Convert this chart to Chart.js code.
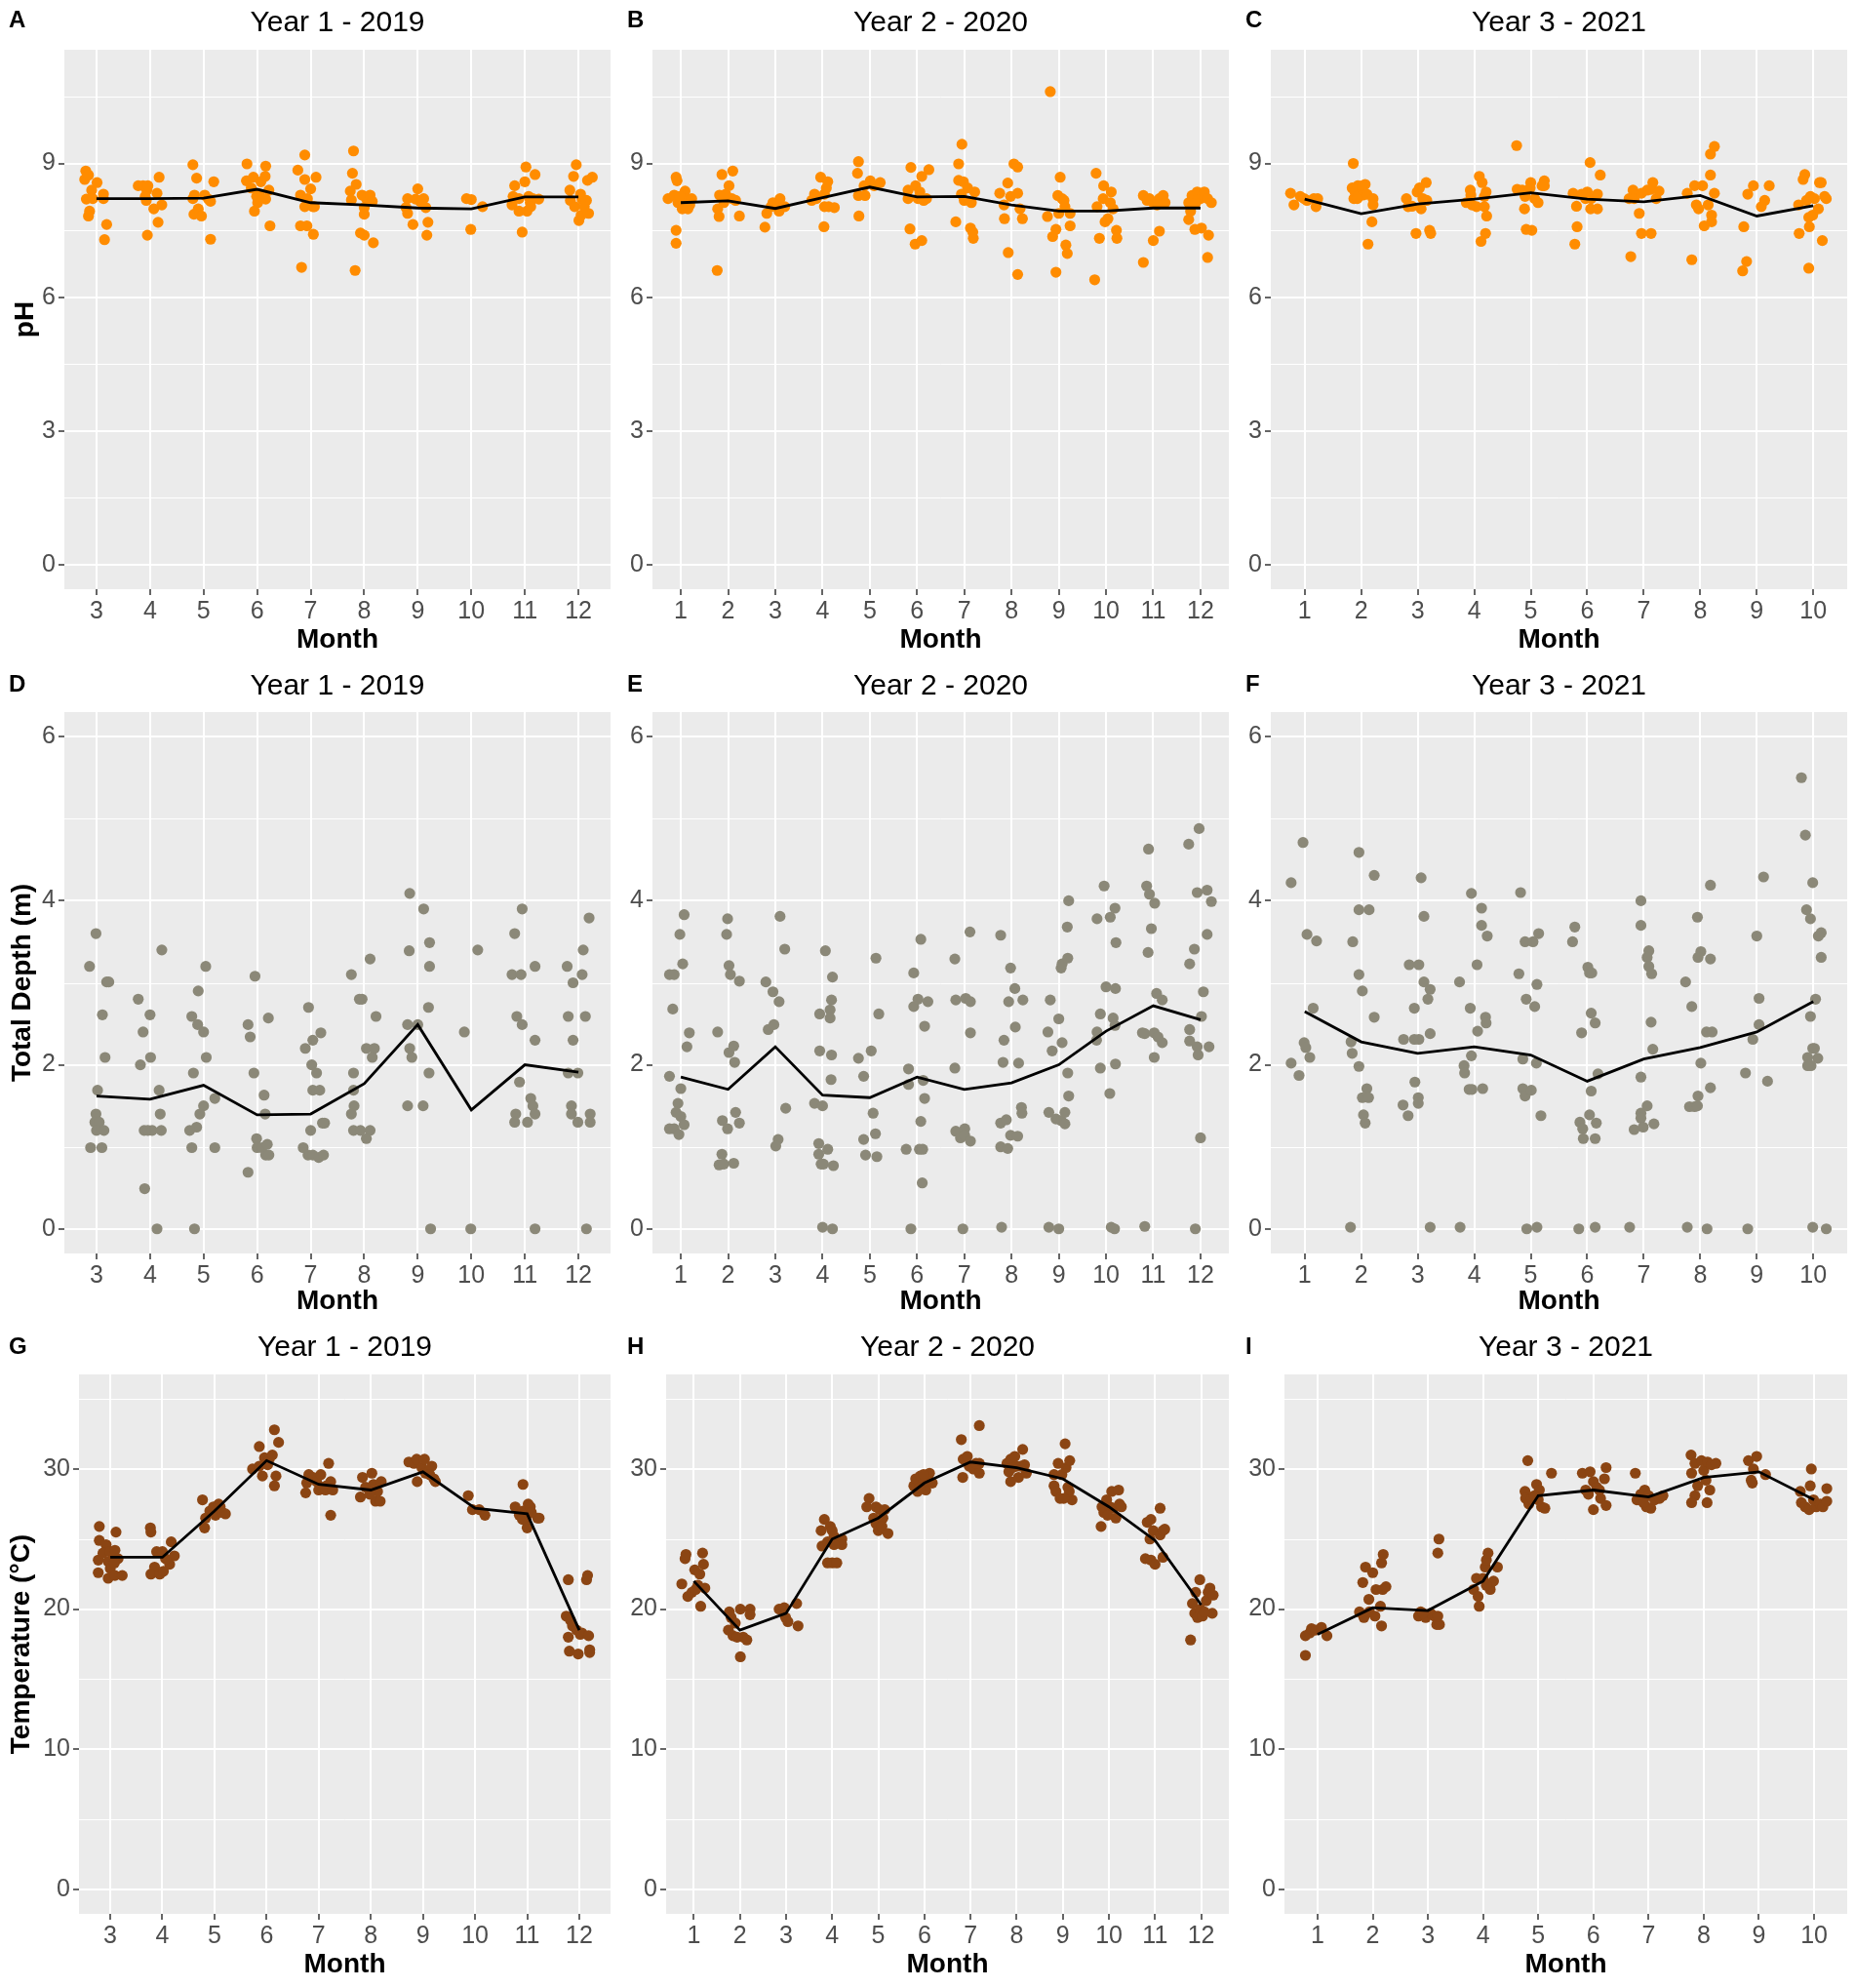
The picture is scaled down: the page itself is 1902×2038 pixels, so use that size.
<!DOCTYPE html>
<html>
<head>
<meta charset="utf-8">
<script src="https://cdn.jsdelivr.net/npm/chart.js@4.4.0/dist/chart.umd.min.js"></script>
<style>
  body { margin: 0; background: #fff; }
  #wrap { position: relative; width: 1902px; height: 2038px; }
  #wrap canvas { position: absolute; }
</style>
</head>
<body>
<div id="wrap"></div>
<script>
const FONT = "'Liberation Sans', Arial, sans-serif";

// months on the x axis of each year
const monthsY1 = [3, 4, 5, 6, 7, 8, 9, 10, 11, 12];
const monthsY2 = [1, 2, 3, 4, 5, 6, 7, 8, 9, 10, 11, 12];
const monthsY3 = [1, 2, 3, 4, 5, 6, 7, 8, 9, 10];

// monthly means (black line)
const phMeanY1 = [8.21, 8.21, 8.22, 8.42, 8.12, 8.07, 8.0, 7.98, 8.25, 8.25];
const phMeanY2 = [8.12, 8.16, 7.99, 8.23, 8.47, 8.25, 8.26, 8.07, 7.93, 7.93, 8.0, 8.0];
const phMeanY3 = [8.2, 7.87, 8.09, 8.2, 8.34, 8.2, 8.14, 8.28, 7.82, 8.05];
const depthMeanY1 = [1.62, 1.58, 1.75, 1.39, 1.40, 1.77, 2.49, 1.45, 2.0, 1.91];
const depthMeanY2 = [1.85, 1.70, 2.22, 1.63, 1.60, 1.85, 1.70, 1.78, 2.0, 2.41, 2.72, 2.55];
const depthMeanY3 = [2.65, 2.28, 2.14, 2.22, 2.12, 1.80, 2.07, 2.21, 2.40, 2.77];
const tempMeanY1 = [23.7, 23.7, 27.0, 30.6, 28.9, 28.5, 29.8, 27.2, 26.8, 18.5];
const tempMeanY2 = [22.0, 18.5, 19.7, 25.0, 26.5, 29.0, 30.5, 30.1, 29.3, 27.3, 24.9, 20.3];
const tempMeanY3 = [18.2, 20.1, 19.9, 22.0, 28.1, 28.5, 28.0, 29.4, 29.8, 27.8];

// jittered samples [month + jitter, value]
const phPointsY1 = [
  [2.78,8.64],[2.8,8.83],[2.85,8.74],[2.91,8.4],[2.81,8.2],[2.93,8.21],[2.87,7.93],[2.85,7.82],[3.01,8.57],[3.13,8.31],[3.13,8.21],[3.19,7.63],[3.15,7.29],
  [3.78,8.5],[3.87,8.5],[3.94,8.4],[3.91,8.26],[3.93,8.17],[3.96,8.5],[3.95,7.39],[4.07,7.98],[4.13,8.33],[4.17,8.69],[4.22,8.07],[4.15,7.68],
  [4.8,8.97],[4.87,8.67],[4.8,8.21],[4.83,8.29],[4.82,7.86],[4.9,7.98],[4.96,7.82],[5.02,8.29],[5.09,8.2],[5.13,8.15],[5.19,8.59],[5.13,7.3],
  [5.81,8.99],[5.8,8.61],[5.93,8.69],[5.89,8.45],[6.04,8.31],[6.07,8.59],[6.16,8.94],[6.15,8.71],[6.22,8.4],[6.16,8.2],[6.01,8.12],[5.95,7.93],[6.24,7.6],[5.99,8.26],
  [6.76,8.85],[6.89,9.19],[6.89,8.64],[6.81,8.29],[6.94,8.21],[6.89,8.03],[6.81,7.6],[6.93,7.6],[6.83,6.67],[7.0,8.43],[7.1,8.69],[7.04,8.03],[7.07,8.03],[7.05,7.41],
  [7.8,9.28],[7.78,8.78],[7.85,8.53],[7.74,8.38],[7.76,8.18],[7.96,8.29],[8.04,8.21],[8.11,8.29],[8.15,8.15],[8.0,8.01],[8.0,7.86],[7.93,7.44],[8.0,7.39],[8.17,7.22],[7.83,6.6],
  [8.81,8.21],[8.78,8.01],[8.81,7.88],[8.91,7.63],[9.0,8.43],[8.96,8.2],[9.11,8.21],[9.05,8.14],[9.15,8.01],[9.19,7.68],[9.17,7.39],
  [9.91,8.21],[10.0,8.19],[9.99,7.52],[10.21,8.03],
  [10.81,8.5],[10.78,8.26],[10.76,8.07],[10.89,7.93],[10.95,7.46],[11.02,8.92],[11.0,8.59],[11.19,8.75],[11.07,8.26],[11.15,8.21],[11.1,8.12],[11.04,7.93],[11.26,8.2],[10.89,8.21],[11.11,8.03],
  [11.96,8.97],[11.91,8.71],[11.84,8.4],[11.85,8.17],[11.93,8.03],[12.04,8.31],[12.07,8.19],[12.15,8.17],[12.01,7.72],[12.05,7.84],[12.19,7.88],[12.17,8.62],[12.26,8.69],[12.11,8.03]
];
const phPointsY2 = [
  [0.73,8.21],[0.86,8.29],[0.9,8.69],[0.92,8.61],[0.94,8.12],[1.03,7.98],[0.9,7.5],[0.9,7.21],[1.09,8.38],[1.13,8.21],[1.19,8.07],[1.23,8.21],[1.15,7.98],[0.98,8.26],
  [1.87,8.75],[2.1,8.83],[2.02,8.5],[1.82,8.29],[1.78,7.98],[1.81,7.81],[1.91,8.12],[2.08,8.21],[2.16,8.17],[2.24,7.82],[1.77,6.6],[1.95,8.31],
  [2.78,7.57],[2.82,7.88],[2.91,8.03],[3.01,8.07],[3.08,7.93],[3.1,8.21],[3.2,8.03],[2.95,8.12],
  [3.77,8.17],[3.83,8.31],[3.96,8.69],[3.87,8.21],[4.04,8.31],[4.11,8.59],[4.08,8.45],[4.04,8.03],[4.13,8.03],[4.25,8.01],[4.03,7.58],
  [4.76,9.04],[4.74,8.78],[4.77,7.82],[4.76,8.28],[4.9,8.28],[4.88,8.5],[5.01,8.61],[5.09,8.5],[5.22,8.57],
  [5.87,8.91],[5.81,8.4],[5.81,8.21],[5.85,7.53],[5.96,7.19],[6.1,7.27],[5.97,8.5],[6.06,8.36],[6.1,8.71],[6.14,8.17],[6.2,8.21],[6.25,8.86],[6.02,8.21],
  [6.95,9.43],[6.88,8.99],[6.88,8.62],[6.82,7.69],[6.98,8.59],[6.94,8.31],[7.0,8.17],[7.07,8.45],[7.15,8.12],[7.22,8.36],[7.13,7.55],[7.19,7.32],[7.18,7.46],
  [7.75,8.33],[7.84,8.07],[7.85,7.76],[7.92,8.56],[8.05,8.99],[8.13,8.92],[7.98,8.26],[8.13,8.33],[8.18,7.98],[8.23,7.76],[7.93,7.0],[8.13,6.51],
  [8.82,10.61],[8.76,7.81],[8.87,7.36],[8.94,7.52],[8.94,6.56],[9.03,8.69],[8.98,8.28],[9.07,8.21],[9.11,8.17],[9.0,7.88],[9.15,7.17],[9.18,6.98],[9.24,7.6],[9.24,7.88],[9.13,8.03],
  [9.79,8.78],[9.81,8.03],[9.76,6.39],[9.86,7.32],[9.95,8.5],[9.94,8.21],[9.98,7.69],[10.04,7.76],[10.11,8.36],[10.09,8.12],[10.15,7.98],[10.22,7.5],[10.23,7.32],
  [10.79,6.78],[10.79,8.28],[10.87,8.17],[11.0,8.12],[11.0,7.27],[11.13,7.48],[11.13,8.21],[11.21,8.28],[11.25,8.12],[11.08,8.07],[10.92,8.21],
  [11.75,7.74],[11.79,7.93],[11.75,8.12],[11.82,8.28],[11.88,7.52],[11.93,8.36],[12.0,8.21],[12.08,8.36],[12.15,8.21],[12.23,8.12],[12.02,7.55],[12.15,6.89],[12.17,7.39],[11.9,8.12]
];
const phPointsY3 = [
  [0.75,8.33],[0.81,8.07],[0.92,8.26],[0.99,8.21],[1.04,8.17],[1.16,8.21],[1.2,8.03],[1.23,8.21],
  [1.86,9.0],[1.84,8.45],[1.87,8.21],[1.89,8.36],[1.94,8.5],[1.96,8.29],[2.02,8.5],[2.07,8.53],[2.03,8.29],[2.1,8.31],[2.21,8.21],[2.21,8.07],[2.19,7.69],[2.12,7.19],[1.93,8.21],
  [2.8,8.21],[2.83,8.03],[2.9,8.04],[2.99,8.36],[3.03,8.45],[3.09,8.21],[3.15,8.57],[3.16,8.17],[3.06,7.98],[2.97,7.43],[3.21,7.5],[3.23,7.43],
  [3.86,8.12],[3.93,8.4],[3.94,8.29],[3.96,8.07],[4.04,8.03],[4.09,8.71],[4.14,8.57],[4.18,8.26],[4.21,8.36],[4.18,8.03],[4.22,7.82],[4.2,7.43],[4.12,7.25],
  [4.75,9.4],[4.76,8.42],[4.85,8.4],[4.9,8.26],[4.99,8.45],[5.0,8.57],[4.89,7.98],[4.92,7.52],[5.02,7.5],[5.07,8.21],[5.13,8.12],[5.2,8.5],[5.24,8.61],[5.24,8.5],
  [5.75,8.33],[5.81,8.04],[5.82,7.58],[5.78,7.19],[5.9,8.31],[6.0,8.36],[6.05,9.02],[6.07,8.21],[6.06,7.98],[6.18,8.31],[6.18,7.98],[6.23,8.74],[5.97,8.21],
  [6.74,8.21],[6.81,8.4],[6.83,8.21],[6.92,7.88],[6.96,8.33],[6.77,6.91],[6.96,7.43],[7.06,8.4],[7.13,8.42],[7.16,8.57],[7.22,8.21],[7.27,8.38],[7.13,7.43],
  [7.77,8.33],[7.9,8.5],[7.93,8.07],[7.97,7.98],[8.04,8.5],[8.07,7.6],[7.85,6.84],[8.14,8.07],[8.18,8.74],[8.18,9.21],[8.25,9.38],[8.25,8.33],[8.2,7.69],[8.2,7.84],
  [8.77,7.58],[8.75,6.59],[8.82,6.8],[8.84,8.31],[8.94,8.5],[9.08,8.03],[9.14,8.17],[9.22,8.5],
  [9.75,7.43],[9.74,8.07],[9.82,8.64],[9.85,8.75],[9.88,8.17],[9.95,8.26],[9.92,7.79],[9.93,7.58],[9.99,7.84],[9.92,6.65],[10.09,7.98],[10.11,8.57],[10.14,8.57],[10.16,7.27],[10.2,8.26],[10.23,8.21],[10.02,8.21]
];

const depthPointsY1 = [
  [2.87,3.2],[2.99,3.6],[2.89,0.99],[2.99,1.4],[2.97,1.3],[3.05,1.3],[3.0,1.2],[3.02,1.69],[3.11,2.61],[3.16,2.09],[3.19,3.01],[3.23,3.01],[3.1,0.99],[3.14,1.2],
  [3.78,2.8],[3.87,2.4],[3.82,2.0],[3.9,0.49],[3.89,1.2],[3.96,1.2],[4.04,1.2],[4.0,2.61],[4.01,2.09],[4.13,0.0],[4.17,1.69],[4.19,1.4],[4.21,1.2],[4.22,3.4],
  [4.78,2.59],[4.89,2.49],[4.9,2.9],[5.0,2.4],[5.04,3.2],[5.05,2.09],[4.81,1.9],[5.0,1.5],[4.93,1.4],[4.87,1.24],[4.74,1.2],[4.78,0.99],[4.83,0.0],[5.21,1.59],[5.21,0.99],
  [5.83,2.49],[5.87,2.34],[5.96,3.08],[5.94,1.9],[6.13,1.63],[6.15,1.4],[6.21,2.57],[5.99,1.1],[6.0,0.99],[6.09,0.99],[6.19,1.03],[6.16,0.9],[6.22,0.9],[5.83,0.69],
  [6.96,2.7],[6.9,2.2],[7.04,2.3],[7.19,2.39],[7.02,2.0],[7.11,1.9],[7.04,1.69],[7.17,1.69],[7.0,1.2],[7.22,1.29],[7.26,1.29],[6.86,0.99],[6.95,0.9],[7.04,0.9],[7.15,0.87],[7.24,0.9],
  [7.76,3.1],[7.91,2.8],[7.96,2.8],[8.11,3.29],[8.22,2.59],[8.04,2.2],[8.19,2.2],[8.15,2.09],[7.8,1.9],[7.8,1.69],[7.81,1.5],[7.76,1.4],[7.8,1.2],[7.93,1.2],[8.11,1.2],[8.04,1.1],
  [8.85,4.09],[8.84,3.39],[8.81,2.49],[9.0,2.49],[8.85,2.2],[8.89,2.09],[8.81,1.5],[9.1,1.5],[9.11,3.9],[9.22,3.49],[9.22,3.2],[9.2,2.7],[9.21,1.9],[9.24,0.0],
  [9.87,2.4],[10.12,3.4],[9.99,0.0],
  [10.81,3.6],[10.76,3.1],[10.93,3.1],[10.95,3.9],[10.85,2.59],[10.95,2.49],[10.9,1.79],[11.11,1.59],[11.15,1.5],[11.19,1.4],[10.83,1.4],[10.81,1.3],[11.05,1.3],[11.19,3.2],[11.19,2.3],[11.19,0.0],
  [11.79,3.2],[11.9,3.0],[11.81,2.59],[11.9,2.3],[11.81,1.9],[11.99,1.9],[11.87,1.5],[11.87,1.4],[11.99,1.3],[12.07,3.1],[12.09,3.4],[12.13,2.59],[12.2,3.79],[12.22,1.4],[12.22,1.3],[12.15,0.0]
];
const depthPointsY2 = [
  [0.76,3.1],[0.86,3.1],[0.83,2.68],[0.76,1.86],[1.0,1.71],[0.94,1.53],[0.9,1.42],[1.0,1.37],[0.76,1.22],[0.86,1.22],[0.96,1.15],[1.07,1.27],[0.98,3.59],[1.07,3.83],[1.04,3.23],[1.13,2.22],[1.18,2.39],
  [1.78,2.4],[1.99,3.78],[1.97,3.59],[2.02,3.21],[2.05,3.1],[2.24,3.02],[2.02,2.15],[2.12,2.23],[2.14,2.03],[1.88,1.32],[1.99,1.22],[2.16,1.42],[2.24,1.29],[1.87,0.91],[1.81,0.78],[1.91,0.79],[2.12,0.8],
  [2.8,3.01],[2.95,2.89],[3.08,2.77],[2.85,2.43],[2.97,2.49],[3.1,3.81],[3.2,3.41],[3.22,1.47],[3.06,1.09],[3.01,1.01],
  [3.83,1.53],[4.0,1.5],[3.94,2.62],[3.94,2.17],[4.06,3.39],[4.21,3.07],[4.19,2.79],[4.16,2.67],[4.16,2.57],[4.19,2.12],[4.18,1.82],[3.92,1.04],[3.92,0.91],[3.97,0.79],[4.02,0.79],[4.11,0.97],[4.23,0.77],[4.0,0.02],[4.21,0.0],
  [4.76,2.08],[4.87,1.86],[5.03,2.17],[5.07,1.41],[4.87,1.09],[5.12,1.16],[4.91,0.9],[5.15,0.88],[5.13,3.3],[5.19,2.62],
  [5.82,1.95],[5.82,1.76],[5.77,0.97],[5.93,2.71],[5.93,3.12],[6.02,2.8],[6.08,3.53],[6.13,1.81],[6.16,1.59],[6.16,2.47],[6.23,2.77],[6.08,1.31],[6.05,0.97],[6.12,0.97],[6.11,0.56],[5.87,0.0],
  [6.8,3.29],[6.82,2.79],[7.03,2.81],[7.13,2.77],[7.13,2.39],[6.8,1.96],[7.12,3.62],[6.82,1.19],[6.92,1.11],[7.01,1.22],[7.01,1.14],[7.13,1.07],[6.97,0.0],
  [7.77,3.58],[7.98,3.18],[8.07,2.93],[7.94,2.77],[8.24,2.79],[8.08,2.46],[7.84,2.3],[7.82,2.03],[8.15,2.02],[8.21,1.48],[8.22,1.41],[7.77,1.29],[7.89,1.33],[7.98,1.14],[8.13,1.13],[7.77,1.0],[7.92,0.98],[7.79,0.02],
  [8.82,2.79],[8.77,2.4],[8.79,1.42],[8.86,2.17],[9.0,2.56],[9.07,2.27],[9.05,3.18],[9.07,3.23],[9.18,3.68],[9.19,3.3],[9.21,4.0],[9.19,1.9],[9.21,1.62],[8.94,1.34],[9.05,1.32],[9.13,1.28],[9.13,1.42],[8.79,0.02],[9.0,0.0],
  [9.81,3.78],[9.96,4.18],[10.09,3.8],[10.19,3.91],[10.21,3.49],[10.0,2.95],[10.2,2.93],[9.88,2.62],[9.81,2.4],[9.8,2.3],[9.88,1.96],[10.15,2.57],[10.19,2.48],[10.2,2.01],[10.08,1.65],[10.11,0.02],[10.18,0.0],
  [10.9,4.63],[10.86,4.18],[10.92,4.08],[11.03,3.97],[10.96,3.66],[10.89,3.37],[11.07,2.87],[11.19,2.79],[10.77,2.39],[10.82,2.38],[11.02,2.39],[11.1,2.34],[11.19,2.27],[11.02,2.09],[10.82,0.03],
  [11.75,4.69],[11.97,4.88],[11.93,4.1],[12.14,4.13],[12.23,3.99],[12.14,3.59],[11.87,3.41],[11.77,3.23],[12.06,2.89],[12.02,2.59],[11.77,2.43],[11.77,2.29],[11.93,2.22],[11.95,2.12],[12.18,2.22],[12.0,1.11],[11.89,0.0]
];
const depthPointsY3 = [
  [0.76,4.22],[0.97,4.71],[1.04,3.59],[1.21,3.51],[1.15,2.69],[0.99,2.27],[1.02,2.21],[1.09,2.09],[0.76,2.02],[0.9,1.87],
  [1.96,4.59],[1.85,3.5],[1.96,3.89],[2.14,3.89],[2.23,4.31],[1.96,3.1],[2.02,2.9],[2.23,2.58],[1.82,2.28],[1.84,2.14],[1.96,1.98],[2.1,1.71],[2.02,1.6],[2.13,1.6],[2.04,1.39],[2.07,1.29],[1.81,0.02],
  [2.85,3.22],[3.02,3.22],[3.06,4.28],[3.11,3.81],[3.11,3.01],[3.22,2.92],[3.18,2.8],[2.94,2.69],[2.75,2.31],[2.94,2.31],[3.02,2.31],[3.22,2.38],[2.95,1.79],[3.01,1.6],[3.01,1.53],[2.74,1.51],[2.83,1.38],[3.22,0.02],
  [3.95,4.09],[4.13,3.91],[4.13,3.7],[4.23,3.57],[4.05,3.22],[3.74,3.01],[3.93,2.69],[4.2,2.58],[4.21,2.51],[4.06,2.41],[3.95,2.11],[3.82,1.99],[3.83,1.9],[3.91,1.7],[3.96,1.7],[4.15,1.71],[3.75,0.02],
  [4.82,4.1],[4.9,3.5],[5.04,3.5],[5.14,3.6],[4.79,3.11],[5.11,2.98],[4.92,2.8],[5.07,2.71],[4.86,2.07],[5.1,2.02],[4.86,1.71],[4.9,1.62],[5.01,1.69],[5.18,1.38],[4.93,0.0],[5.11,0.02],
  [5.78,3.68],[5.74,3.5],[6.01,3.19],[6.04,3.12],[6.08,3.12],[6.07,2.63],[6.14,2.51],[5.9,2.39],[6.19,1.89],[6.07,1.68],[6.04,1.39],[5.87,1.3],[5.92,1.22],[5.93,1.1],[6.16,1.29],[6.14,1.1],[5.85,0.0],[6.14,0.02],
  [6.95,4.0],[6.95,3.7],[7.09,3.39],[7.06,3.31],[7.09,3.2],[7.14,3.11],[7.13,2.52],[7.16,2.19],[6.95,1.85],[7.06,1.5],[6.95,1.41],[6.95,1.35],[6.99,1.24],[6.83,1.21],[7.18,1.28],[6.75,0.02],
  [7.74,3.01],[7.85,2.71],[7.95,3.8],[8.01,3.38],[7.96,3.31],[8.18,3.29],[8.18,4.19],[8.11,2.4],[8.21,2.4],[8.01,2.02],[7.96,1.62],[7.81,1.49],[7.9,1.49],[7.95,1.5],[8.18,1.72],[7.77,0.02],[8.12,0.0],
  [9.12,4.29],[9.0,3.57],[9.04,2.81],[9.04,2.49],[8.93,2.31],[8.8,1.9],[9.19,1.8],[8.84,0.0],
  [9.79,5.5],[9.86,4.8],[9.99,4.22],[9.88,3.89],[9.95,3.78],[10.14,3.61],[10.09,3.57],[10.14,3.31],[10.04,2.8],[9.95,2.59],[9.99,2.2],[10.02,2.2],[9.9,2.09],[10.08,2.08],[9.9,1.99],[9.96,1.99],[9.99,0.02],[10.23,0.0]
];

const tempPointsY1 = [
  [2.79,25.9],[2.79,24.9],[2.92,24.6],[3.11,25.5],[2.77,23.5],[2.86,24.0],[3.0,24.1],[3.09,24.2],[2.96,23.4],[3.0,22.9],[2.77,22.6],[2.96,22.2],[3.09,22.4],[3.23,22.4],[3.15,23.6],[3.08,23.3],
  [3.77,25.8],[3.78,25.5],[3.89,24.1],[4.0,24.1],[4.17,24.8],[4.23,23.8],[4.14,23.2],[4.06,23.6],[3.85,23.0],[3.78,22.5],[3.95,22.5],[4.02,22.7],
  [4.77,27.8],[4.81,25.8],[4.83,26.5],[4.91,27.0],[4.98,27.3],[5.08,27.5],[5.02,26.7],[5.15,26.9],[5.21,26.8],[5.11,27.3],
  [5.73,30.0],[5.86,31.6],[5.92,29.5],[5.96,30.8],[6.05,30.7],[6.11,31.0],[6.15,32.8],[6.23,31.9],[6.18,29.5],[6.15,28.8],[6.02,30.3],[5.86,30.2],
  [6.75,28.3],[6.77,29.0],[6.81,29.6],[6.89,29.4],[6.96,29.1],[7.05,28.7],[7.0,28.5],[7.15,28.8],[7.19,30.4],[7.23,29.1],[7.23,26.7],[7.13,28.5],[7.27,28.5],[7.04,29.6],
  [7.8,28.0],[7.84,29.4],[7.9,28.7],[8.02,29.7],[8.05,28.9],[8.09,27.7],[8.18,27.7],[8.13,28.4],[8.2,29.1],[7.98,28.2],
  [8.73,30.5],[8.83,30.4],[8.88,30.7],[8.89,29.1],[8.98,30.1],[9.03,30.7],[9.05,29.7],[9.17,30.2],[9.21,29.3],[9.24,29.1],[9.13,29.6],
  [9.87,28.1],[9.95,27.1],[10.08,27.1],[10.19,26.7],
  [10.92,28.9],[10.77,27.3],[10.85,26.7],[10.92,27.0],[11.02,27.5],[11.06,27.3],[11.0,25.8],[10.98,26.4],[11.2,26.5],[11.23,26.5],[10.91,26.4],[11.08,26.9],
  [11.79,22.1],[12.16,22.4],[12.14,22.1],[11.75,19.5],[11.83,19.2],[11.87,18.8],[11.79,18.0],[11.95,18.5],[12.05,18.3],[12.02,18.2],[12.18,18.1],[11.81,17.0],[11.98,16.8],[12.2,17.1],[12.2,16.9]
];
const tempPointsY2 = [
  [0.74,21.8],[0.81,23.6],[0.83,23.9],[0.87,20.9],[0.96,21.2],[1.02,22.8],[1.13,22.5],[1.09,21.7],[1.19,24.0],[1.21,23.2],[1.15,20.2],[1.24,21.5],[1.04,21.4],
  [1.77,19.8],[1.81,19.4],[1.75,18.5],[1.85,18.1],[1.9,19.0],[2.01,20.0],[2.01,16.6],[2.07,18.0],[2.15,17.8],[2.22,20.0],[2.22,19.6],[1.94,18.0],
  [2.85,20.0],[2.96,20.1],[2.99,19.4],[3.04,19.1],[3.23,20.4],[3.26,18.8],
  [3.76,25.6],[3.83,26.4],[3.96,25.9],[3.78,24.5],[3.9,24.8],[4.0,25.6],[4.04,25.2],[3.9,23.3],[4.0,23.3],[4.1,23.3],[4.21,25.0],[4.21,24.6],[4.04,24.6],
  [4.8,27.9],[4.75,27.3],[4.95,27.3],[5.03,27.1],[4.9,26.5],[4.95,26.1],[5.0,25.6],[5.1,26.5],[5.08,25.9],[5.21,25.4],[5.14,27.1],
  [5.77,28.8],[5.81,29.3],[5.85,28.4],[5.91,29.5],[5.98,29.0],[6.03,28.5],[6.07,29.5],[6.11,29.7],[6.17,29.0],[5.9,28.7],[5.98,29.6],
  [6.8,32.1],[6.84,30.7],[6.83,29.4],[6.89,30.7],[6.93,30.9],[6.97,30.2],[7.06,30.0],[7.19,33.1],[7.19,30.4],[7.19,29.7],[7.12,30.4],
  [7.79,30.4],[7.83,29.8],[7.87,30.7],[7.87,29.1],[7.96,30.9],[8.0,30.2],[8.04,29.4],[8.09,30.2],[8.13,31.4],[8.17,30.3],[8.21,29.7],[7.91,30.1],
  [8.81,29.6],[8.81,28.8],[8.85,28.4],[8.9,30.4],[8.94,27.9],[8.98,29.6],[9.05,31.8],[9.07,30.1],[9.11,28.7],[9.15,30.6],[9.2,27.8],[9.14,28.4],[9.02,27.9],
  [9.83,25.9],[9.85,27.3],[9.89,26.9],[9.95,27.8],[10.02,27.3],[10.06,28.4],[10.1,27.2],[10.15,26.5],[10.21,28.5],[10.23,27.5],[10.27,27.3],[9.97,26.7],
  [10.79,23.6],[10.83,26.2],[10.91,26.4],[10.89,25.0],[10.91,23.5],[11.0,23.2],[10.96,25.6],[11.11,27.2],[11.11,25.3],[11.17,25.6],[11.17,23.7],[11.21,25.7],
  [11.77,17.8],[11.81,20.4],[11.88,21.2],[11.97,22.1],[11.86,19.7],[11.92,19.4],[11.98,20.0],[12.03,19.5],[12.11,20.6],[12.15,21.2],[12.19,21.5],[12.24,19.7],[12.26,21.0],[12.07,19.8]
];
const tempPointsY3 = [
  [0.78,16.7],[0.78,18.1],[0.86,18.3],[0.89,18.6],[0.96,18.5],[1.07,18.7],[1.17,18.1],
  [1.82,21.9],[1.87,23.0],[2.0,22.6],[1.93,20.7],[1.76,19.8],[1.84,19.4],[1.94,19.8],[2.04,19.5],[2.06,21.4],[2.14,20.2],[2.16,18.8],[2.16,23.3],[2.19,23.9],[2.18,21.4],[2.24,21.6],
  [2.87,19.8],[2.83,19.5],[2.96,19.4],[3.05,19.7],[3.12,19.5],[3.16,18.9],[3.21,18.9],[3.18,19.5],[3.18,24.0],[3.2,25.0],[2.91,19.7],
  [3.83,21.4],[3.88,22.2],[3.91,20.9],[3.93,20.2],[4.0,22.2],[4.04,23.0],[4.06,23.5],[4.09,24.0],[4.13,21.8],[4.13,21.4],[4.19,22.0],[4.26,23.0],[4.06,21.7],
  [4.81,30.6],[4.76,28.4],[4.77,27.9],[4.83,27.5],[4.88,27.9],[4.97,28.9],[5.02,28.5],[5.0,27.8],[5.06,27.3],[5.12,27.2],[5.24,29.7],[4.93,28.1],
  [5.8,29.7],[5.86,28.5],[5.94,29.8],[5.91,28.2],[6.0,27.1],[6.0,29.1],[6.06,28.7],[6.11,28.5],[6.13,27.9],[6.2,29.3],[6.23,30.1],[6.23,27.4],
  [6.76,29.7],[6.79,27.8],[6.86,28.2],[6.93,28.5],[6.96,27.3],[7.0,28.1],[7.04,27.2],[7.11,27.8],[7.2,27.9],[7.26,28.1],[6.91,27.6],
  [7.77,31.0],[7.78,29.7],[7.84,30.4],[7.89,28.8],[7.84,28.1],[7.78,27.6],[7.96,30.6],[8.0,29.9],[8.04,29.2],[8.07,30.5],[8.11,28.5],[8.06,27.6],[8.14,30.3],[8.22,30.4],
  [8.81,30.6],[8.86,29.2],[8.9,30.0],[8.88,29.0],[8.96,30.9],[9.12,29.6],
  [9.75,28.4],[9.77,27.6],[9.84,27.3],[9.91,27.1],[9.93,28.8],[9.95,30.0],[9.99,27.8],[10.04,27.3],[10.11,27.5],[10.16,27.3],[10.23,28.6],[10.23,27.7]
];

// y axis breaks
const phTicks = [0, 3, 6, 9];
const phMinor = [1.5, 4.5, 7.5, 10.5];
const depthTicks = [0, 2, 4, 6];
const depthMinor = [1, 3, 5];
const tempTicks = [0, 10, 20, 30];
const tempMinor = [5, 15, 25, 35];

const ORANGE = '#FF8C00', GREY = '#8B8878', BROWN = '#8B4513';

const ph = { ticks: phTicks, minor: phMinor, min: -0.55, max: 11.55, label: 'pH', color: ORANGE };
const depth = { ticks: depthTicks, minor: depthMinor, min: -0.3, max: 6.3, label: 'Total Depth (m)', color: GREY };
const temp = { ticks: tempTicks, minor: tempMinor, min: -1.75, max: 36.75, label: 'Temperature (\u00B0C)', color: BROWN };

const y1 = { title: 'Year 1 - 2019', months: monthsY1, xMin: 2.4, xMax: 12.6 };
const y2 = { title: 'Year 2 - 2020', months: monthsY2, xMin: 0.4, xMax: 12.6 };
const y3 = { title: 'Year 3 - 2021', months: monthsY3, xMin: 0.4, xMax: 10.6 };

const panels = [
  { letter: 'A', row: 0, col: 0, v: ph, yr: y1, mean: phMeanY1, pts: phPointsY1 },
  { letter: 'B', row: 0, col: 1, v: ph, yr: y2, mean: phMeanY2, pts: phPointsY2 },
  { letter: 'C', row: 0, col: 2, v: ph, yr: y3, mean: phMeanY3, pts: phPointsY3 },
  { letter: 'D', row: 1, col: 0, v: depth, yr: y1, mean: depthMeanY1, pts: depthPointsY1 },
  { letter: 'E', row: 1, col: 1, v: depth, yr: y2, mean: depthMeanY2, pts: depthPointsY2 },
  { letter: 'F', row: 1, col: 2, v: depth, yr: y3, mean: depthMeanY3, pts: depthPointsY3 },
  { letter: 'G', row: 2, col: 0, v: temp, yr: y1, mean: tempMeanY1, pts: tempPointsY1 },
  { letter: 'H', row: 2, col: 1, v: temp, yr: y2, mean: tempMeanY2, pts: tempPointsY2 },
  { letter: 'I', row: 2, col: 2, v: temp, yr: y3, mean: tempMeanY3, pts: tempPointsY3 }
];

const colLeft = [0, 634, 1268];
const rowTop = [0, 676, 1352];
const rowHeight = [676, 676, 686];
const rowLayout = [
  { plotTop: 51, plotBottom: 604, titleY: 24, letterY: 21, monthY: 656, yLabelX: 26 },
  { plotTop: 54, plotBottom: 609, titleY: 28, letterY: 26, monthY: 658, yLabelX: 23 },
  { plotTop: 57, plotBottom: 610, titleY: 30, letterY: 29, monthY: 662, yLabelX: 22 }
];
const plotLeft = [[66, 35, 35], [66, 35, 35], [81, 49, 49]];

// panel background, minor grid and all the text around a panel
const ggDecor = {
  id: 'ggDecor',
  beforeDraw(chart, args, opts) {
    const { ctx, chartArea: a } = chart;
    ctx.save();
    ctx.fillStyle = '#EBEBEB';
    ctx.fillRect(a.left, a.top, a.right - a.left, a.bottom - a.top);
    ctx.strokeStyle = '#FFFFFF';
    ctx.lineWidth = 1;
    opts.minor.forEach(v => {
      const y = Math.round(chart.scales.y.getPixelForValue(v)) + 0.5;
      ctx.beginPath();
      ctx.moveTo(a.left, y);
      ctx.lineTo(a.right, y);
      ctx.stroke();
    });
    ctx.restore();
  },
  afterDraw(chart, args, opts) {
    const { ctx, chartArea: a } = chart;
    const cx = (a.left + a.right) / 2;
    ctx.save();
    ctx.fillStyle = '#000';
    ctx.textBaseline = 'middle';
    ctx.textAlign = 'center';
    ctx.font = '30px ' + FONT;
    ctx.fillText(opts.title, cx, opts.titleY);
    ctx.font = 'bold 28px ' + FONT;
    ctx.fillText('Month', cx, opts.monthY);
    ctx.textAlign = 'left';
    ctx.font = 'bold 24px ' + FONT;
    ctx.fillText(opts.letter, 9, opts.letterY);
    if (opts.yLabel) {
      ctx.translate(opts.yLabelX, (a.top + a.bottom) / 2);
      ctx.rotate(-Math.PI / 2);
      ctx.textAlign = 'center';
      ctx.font = 'bold 28px ' + FONT;
      ctx.fillText(opts.yLabel, 0, 0);
    }
    ctx.restore();
  }
};

const wrap = document.getElementById('wrap');

panels.forEach(p => {
  const W = 634, H = rowHeight[p.row];
  const lay = rowLayout[p.row];
  const left = plotLeft[p.row][p.col];

  const canvas = document.createElement('canvas');
  canvas.width = W;
  canvas.height = H;
  canvas.style.left = colLeft[p.col] + 'px';
  canvas.style.top = rowTop[p.row] + 'px';
  canvas.style.width = W + 'px';
  canvas.style.height = H + 'px';
  wrap.appendChild(canvas);

  const tickFont = { family: FONT, size: 25 };
  const gridOpts = { color: '#FFFFFF', lineWidth: 2, tickColor: '#333333', tickLength: 6, tickWidth: 1.5 };

  new Chart(canvas, {
    type: 'scatter',
    data: {
      datasets: [
        {
          type: 'line',
          data: p.yr.months.map((m, i) => ({ x: m, y: p.mean[i] })),
          borderColor: '#000000',
          borderWidth: 2.8,
          pointRadius: 0,
          fill: false,
          tension: 0
        },
        {
          data: p.pts.map(d => ({ x: d[0], y: d[1] })),
          backgroundColor: p.v.color,
          borderWidth: 0,
          pointRadius: 5.6
        }
      ]
    },
    options: {
      responsive: false,
      animation: false,
      devicePixelRatio: 1,
      layout: { autoPadding: false, padding: { top: lay.plotTop, right: W - 626, left: 0, bottom: 0 } },
      plugins: {
        legend: { display: false },
        tooltip: { enabled: false },
        ggDecor: {
          title: p.yr.title,
          letter: p.letter,
          titleY: lay.titleY,
          letterY: lay.letterY,
          monthY: lay.monthY,
          minor: p.v.minor,
          yLabel: p.col === 0 ? p.v.label : null,
          yLabelX: lay.yLabelX
        }
      },
      scales: {
        x: {
          type: 'linear',
          min: p.yr.xMin,
          max: p.yr.xMax,
          afterBuildTicks: s => { s.ticks = p.yr.months.map(v => ({ value: v })); },
          afterFit: s => { s.height = H - lay.plotBottom; },
          grid: gridOpts,
          border: { display: false },
          ticks: { font: tickFont, color: '#4D4D4D', padding: 2, maxRotation: 0, autoSkip: false }
        },
        y: {
          type: 'linear',
          min: p.v.min,
          max: p.v.max,
          afterBuildTicks: s => { s.ticks = p.v.ticks.map(v => ({ value: v })); },
          afterFit: s => { s.width = left; },
          grid: gridOpts,
          border: { display: false },
          ticks: { font: tickFont, color: '#4D4D4D', padding: 3 }
        }
      }
    },
    plugins: [ggDecor]
  });
});
</script>
</body>
</html>
